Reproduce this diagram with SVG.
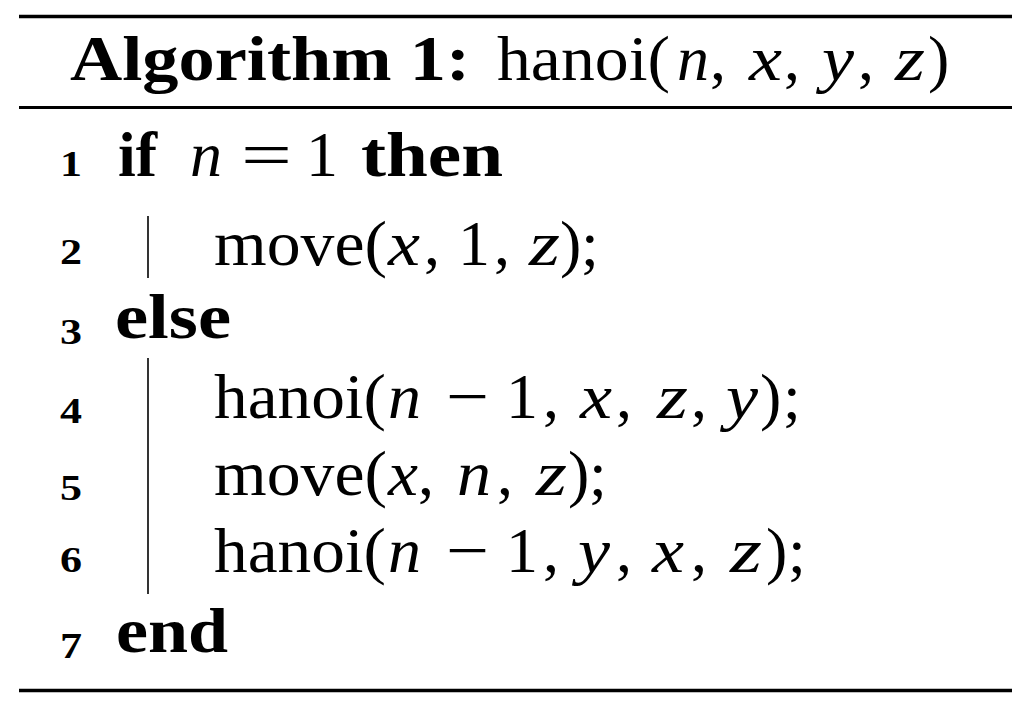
<svg xmlns="http://www.w3.org/2000/svg" width="1032" height="708" viewBox="0 0 1032 708">
<style>
text{font-family:"Liberation Serif","Times New Roman",serif;font-size:64px;fill:#000}
.b{font-weight:bold}
.i{font-style:italic}
.num{font-weight:bold;font-size:36px}
.rule{stroke:#000;stroke-width:3.5}
.bar{stroke:#000;stroke-width:1.6}
</style>
<rect width="1032" height="708" fill="#fff"/>
<g id="rules">
<line class="rule" x1="19" y1="16.5" x2="1012" y2="16.5"/>
<line class="rule" x1="19" y1="107.5" x2="1012" y2="107.5" style="stroke-width:3"/>
<line class="rule" x1="19" y1="690.5" x2="1012" y2="690.5"/>
</g>
<g id="bars">
<line class="bar" x1="148" y1="216" x2="148" y2="278"/>
<line class="bar" x1="148" y1="358" x2="148" y2="594"/>
</g>
<g id="title">
<text class="b" x="70" y="80" textLength="400" lengthAdjust="spacingAndGlyphs">Algorithm 1:</text>
<text x="497" y="80" textLength="173" lengthAdjust="spacingAndGlyphs">hanoi(</text>
<text class="i" x="677" y="80" textLength="32" lengthAdjust="spacingAndGlyphs">n</text>
<text x="710" y="80">,</text>
<text class="i" x="749" y="80" textLength="33" lengthAdjust="spacingAndGlyphs">x</text>
<text x="784" y="80">,</text>
<text class="i" x="822" y="80" textLength="32" lengthAdjust="spacingAndGlyphs">y</text>
<text x="858" y="80">,</text>
<text class="i" x="895" y="80" textLength="30" lengthAdjust="spacingAndGlyphs">z</text>
<text x="928" y="80">)</text>
</g>
<g id="line1">
<text class="num" x="60" y="176" textLength="22" lengthAdjust="spacingAndGlyphs">1</text>
<text class="b" x="118" y="176">if</text>
<text class="i" x="190" y="176" textLength="32" lengthAdjust="spacingAndGlyphs">n</text>
<text x="241" y="176" textLength="51" lengthAdjust="spacingAndGlyphs">=</text>
<text x="306" y="176">1</text>
<text class="b" x="361" y="176" textLength="142" lengthAdjust="spacingAndGlyphs">then</text>
</g>
<g id="line2">
<text class="num" x="60" y="264" textLength="22" lengthAdjust="spacingAndGlyphs">2</text>
<text x="214" y="265" textLength="173" lengthAdjust="spacingAndGlyphs">move(</text>
<text class="i" x="388" y="265" textLength="32" lengthAdjust="spacingAndGlyphs">x</text>
<text x="424" y="265">,</text>
<text x="458" y="265">1</text>
<text x="494" y="265">,</text>
<text class="i" x="529" y="265" textLength="31" lengthAdjust="spacingAndGlyphs">z</text>
<text x="560" y="265">)</text>
<text x="581" y="265">;</text>
</g>
<g id="line3">
<text class="num" x="60" y="344" textLength="22" lengthAdjust="spacingAndGlyphs">3</text>
<text class="b" x="115" y="338" textLength="116" lengthAdjust="spacingAndGlyphs">else</text>
</g>
<g id="line4">
<text class="num" x="60" y="423" textLength="22" lengthAdjust="spacingAndGlyphs">4</text>
<text x="214" y="418" textLength="172" lengthAdjust="spacingAndGlyphs">hanoi(</text>
<text class="i" x="388" y="418" textLength="33" lengthAdjust="spacingAndGlyphs">n</text>
<text x="446" y="418" textLength="43" lengthAdjust="spacingAndGlyphs">−</text>
<text x="506" y="418">1</text>
<text x="543" y="418">,</text>
<text class="i" x="580" y="418" textLength="32" lengthAdjust="spacingAndGlyphs">x</text>
<text x="616" y="418">,</text>
<text class="i" x="657" y="418" textLength="31" lengthAdjust="spacingAndGlyphs">z</text>
<text x="691" y="418">,</text>
<text class="i" x="726" y="418" textLength="32" lengthAdjust="spacingAndGlyphs">y</text>
<text x="760" y="418">)</text>
<text x="783" y="418">;</text>
</g>
<g id="line5">
<text class="num" x="60" y="500" textLength="22" lengthAdjust="spacingAndGlyphs">5</text>
<text x="214" y="495" textLength="173" lengthAdjust="spacingAndGlyphs">move(</text>
<text class="i" x="388" y="495" textLength="30" lengthAdjust="spacingAndGlyphs">x</text>
<text x="418" y="495">,</text>
<text class="i" x="457" y="495" textLength="34" lengthAdjust="spacingAndGlyphs">n</text>
<text x="497" y="495">,</text>
<text class="i" x="536" y="495" textLength="31" lengthAdjust="spacingAndGlyphs">z</text>
<text x="568" y="495">)</text>
<text x="589" y="495">;</text>
</g>
<g id="line6">
<text class="num" x="60" y="572" textLength="22" lengthAdjust="spacingAndGlyphs">6</text>
<text x="214" y="572" textLength="172" lengthAdjust="spacingAndGlyphs">hanoi(</text>
<text class="i" x="388" y="572" textLength="33" lengthAdjust="spacingAndGlyphs">n</text>
<text x="446" y="572" textLength="43" lengthAdjust="spacingAndGlyphs">−</text>
<text x="506" y="572">1</text>
<text x="543" y="572">,</text>
<text class="i" x="578" y="572" textLength="32" lengthAdjust="spacingAndGlyphs">y</text>
<text x="616" y="572">,</text>
<text class="i" x="652" y="572" textLength="32" lengthAdjust="spacingAndGlyphs">x</text>
<text x="691" y="572">,</text>
<text class="i" x="730" y="572" textLength="32" lengthAdjust="spacingAndGlyphs">z</text>
<text x="766" y="572">)</text>
<text x="788" y="572">;</text>
</g>
<g id="line7">
<text class="num" x="60" y="658" textLength="22" lengthAdjust="spacingAndGlyphs">7</text>
<text class="b" x="116" y="652" textLength="112" lengthAdjust="spacingAndGlyphs">end</text>
</g>
</svg>
